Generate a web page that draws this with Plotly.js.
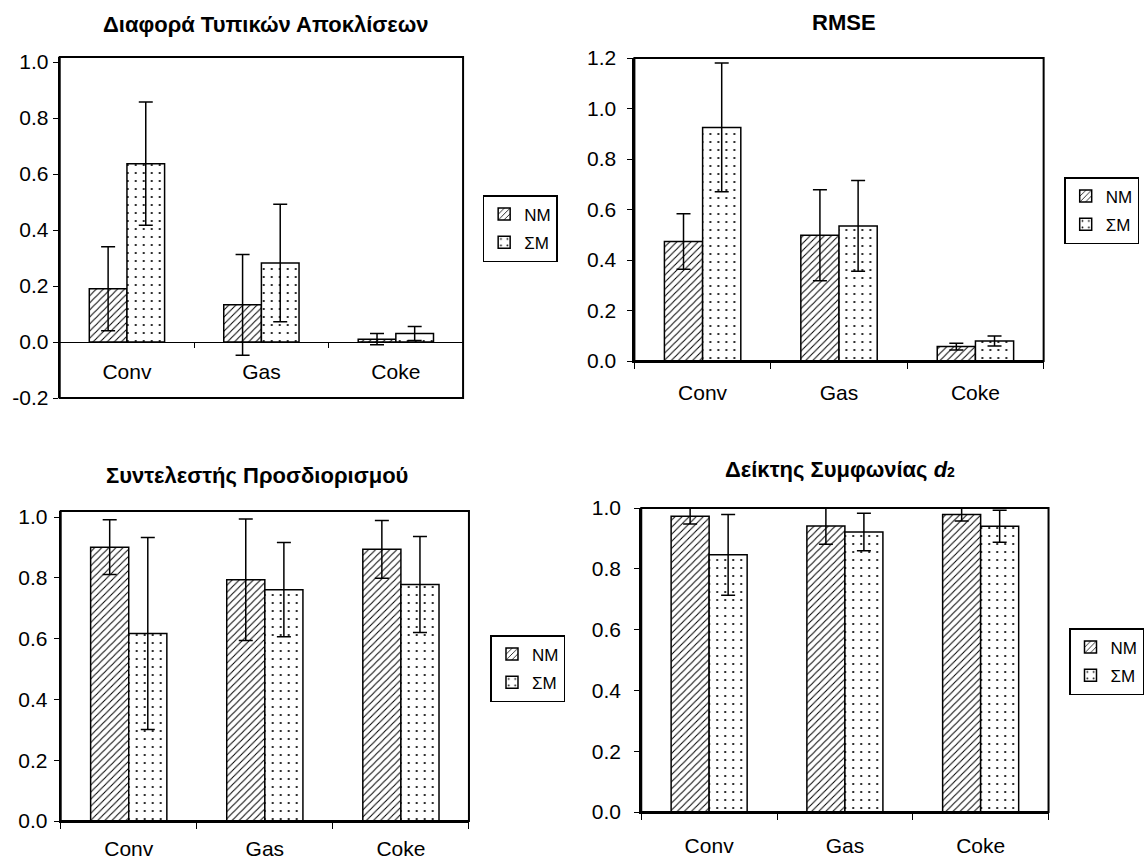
<!DOCTYPE html>
<html>
<head>
<meta charset="utf-8">
<script src="https://cdn.plot.ly/plotly-3.0.1.min.js"></script>
<style>html,body{margin:0;padding:0;background:#fff;}#chart{width:1144px;height:861px;}</style>
</head>
<body>
<div id="chart"></div>
<script>
// ---- data ----
const categories = ["Conv", "Gas", "Coke"];
const seriesNames = ["NM", "ΣM"];

const titles = [
  "<b>Διαφορά Τυπικών Αποκλίσεων</b>",
  "<b>RMSE</b>",
  "<b>Συντελεστής Προσδιορισμού</b>",
  "<b>Δείκτης Συμφωνίας <i>d</i><span style=\"font-size:14px\">2</span></b>"
];

// Panel 1: Διαφορά Τυπικών Αποκλίσεων
const sdNM = [0.19, 0.133, 0.01];
const sdNMerr = [0.15, 0.18, 0.02];
const sdSM = [0.637, 0.282, 0.03];
const sdSMerr = [0.22, 0.21, 0.025];

// Panel 2: RMSE
const rmseNM = [0.473, 0.498, 0.057];
const rmseNMerr = [0.11, 0.18, 0.013];
const rmseSM = [0.925, 0.535, 0.079];
const rmseSMerr = [0.255, 0.18, 0.02];

// Panel 3: Συντελεστής Προσδιορισμού
const r2NM = [0.901, 0.794, 0.894];
const r2NMerr = [0.09, 0.2, 0.095];
const r2SM = [0.617, 0.761, 0.778];
const r2SMerr = [0.316, 0.155, 0.158];

// Panel 4: Δείκτης Συμφωνίας d2
const d2NM = [0.973, 0.941, 0.979];
const d2NMerr = [0.026, 0.06, 0.022];
const d2SM = [0.846, 0.921, 0.94];
const d2SMerr = [0.133, 0.062, 0.053];

const yTicks1 = [-0.2, 0, 0.2, 0.4, 0.6, 0.8, 1.0];
const yLabels1 = ["-0.2", "0.0", "0.2", "0.4", "0.6", "0.8", "1.0"];
const yTicks2 = [0, 0.2, 0.4, 0.6, 0.8, 1.0, 1.2];
const yLabels2 = ["0.0", "0.2", "0.4", "0.6", "0.8", "1.0", "1.2"];
const yTicks34 = [0, 0.2, 0.4, 0.6, 0.8, 1.0];
const yLabels34 = ["0.0", "0.2", "0.4", "0.6", "0.8", "1.0"];

// ---- build ----
const W = 1144, H = 861;
const FONT = "Liberation Sans, Arial, sans-serif";
const px = v => v / W;
const py = v => 1 - v / H;

const panels = [
  {nm: sdNM, nme: sdNMerr, sm: sdSM, sme: sdSMerr},
  {nm: rmseNM, nme: rmseNMerr, sm: rmseSM, sme: rmseSMerr},
  {nm: r2NM, nme: r2NMerr, sm: r2SM, sme: r2SMerr},
  {nm: d2NM, nme: d2NMerr, sm: d2SM, sme: d2SMerr}
];

const patterns = [
  {shape: "/", fgcolor: "#000", bgcolor: "#fff", size: 5, solidity: 0.2},
  {shape: ".", fgcolor: "#000", bgcolor: "#fff", size: 8, solidity: 0.06}
];

const traces = [];
panels.forEach((p, i) => {
  const k = i === 0 ? "" : String(i + 1);
  const vals = [p.nm, p.sm];
  const errs = [p.nme, p.sme];
  vals.forEach((v, s) => {
    traces.push({
      type: "bar",
      x: categories,
      y: v,
      name: seriesNames[s],
      xaxis: "x" + k,
      yaxis: "y" + k,
      legend: "legend" + k,
      legendgroup: "g" + i + "_" + s,
      marker: {color: "#fff", line: {color: "#000", width: 1.5}, pattern: patterns[s]},
      error_y: {type: "data", array: errs[s], visible: true, color: "#000", thickness: 1.5, width: 7}
    });
  });
});

const axisFont = {family: FONT, size: 21, color: "#000"};

function xAxis(x0, x1, extra) {
  return Object.assign({
    domain: [px(x0), px(x1)], type: "category", showgrid: false, zeroline: false,
    showline: true, linecolor: "#000", linewidth: 2, ticks: "outside", tickson: "boundaries",
    ticklen: 6, tickcolor: "#000", tickwidth: 1, tickfont: axisFont, ticklabelstandoff: 12,
    fixedrange: true
  }, extra);
}
function yAxis(anchor, top, bottom, range, tv, tt, standoff) {
  return {
    anchor: anchor,
    domain: [py(bottom), py(top)], range: range, showgrid: false, zeroline: false,
    showline: true, linecolor: "#000", linewidth: 2, ticks: "outside", ticklen: 5,
    tickcolor: "#000", tickwidth: 1, tickvals: tv, ticktext: tt, tickfont: axisFont,
    ticklabelstandoff: standoff, fixedrange: true
  };
}

const layout = {
  width: W, height: H,
  margin: {l: 0, r: 0, t: 0, b: 0},
  paper_bgcolor: "#fff", plot_bgcolor: "#fff",
  font: {family: FONT, color: "#000"},
  bargap: 0.44, bargroupgap: 0,
  barmode: "group",
  xaxis: xAxis(61, 473, {anchor: "free", position: py(342), linewidth: 1, ticklen: 5, ticklabelstandoff: 11}),
  yaxis: yAxis("x", 57, 398, [-0.2, 1.018], yTicks1, yLabels1, 0),
  xaxis2: xAxis(648, 1066, {anchor: "y2"}),
  yaxis2: yAxis("x2", 58, 361, [0, 1.2], yTicks2, yLabels2, 7),
  xaxis3: xAxis(62, 479, {anchor: "y3", ticklabelstandoff: 8}),
  yaxis3: yAxis("x3", 511, 821, [0, 1.02], yTicks34, yLabels34, 2),
  xaxis4: xAxis(655, 1071, {anchor: "y4", ticklabelstandoff: 14}),
  yaxis4: yAxis("x4", 508, 812, [0, 1.0], yTicks34, yLabels34, 9),
  showlegend: true,
  shapes: ["", "2", "3", "4"].map(k => ({
    type: "rect", xref: "x" + k + " domain", yref: "y" + k + " domain",
    x0: 0, x1: 1, y0: 0, y1: 1, line: {color: "#000", width: 2}, layer: "above"
  })),
  annotations: [
    [272, 25], [862, 22], [262, 475], [858, 470]
  ].map((c, i) => ({
    xref: "paper", yref: "paper", x: px(c[0]), y: py(c[1]), xanchor: "center", yanchor: "middle",
    text: titles[i], showarrow: false, font: {family: FONT, size: 22, color: "#000"}
  }))
};

const legPos = [[493, 195], [1087, 177], [501, 635], [1092, 628]];
legPos.forEach((lp, i) => {
  const key = i === 0 ? "legend" : "legend" + (i + 1);
  layout[key] = {
    x: px(lp[0]), y: py(lp[1]), xanchor: "left", yanchor: "top",
    bgcolor: "#fff", bordercolor: "#000", borderwidth: 1.5,
    font: {family: FONT, size: 17, color: "#000"},
    traceorder: "grouped", tracegroupgap: 3, itemwidth: 30
  };
});

Plotly.newPlot("chart", traces, layout, {staticPlot: true});
</script>
</body>
</html>
